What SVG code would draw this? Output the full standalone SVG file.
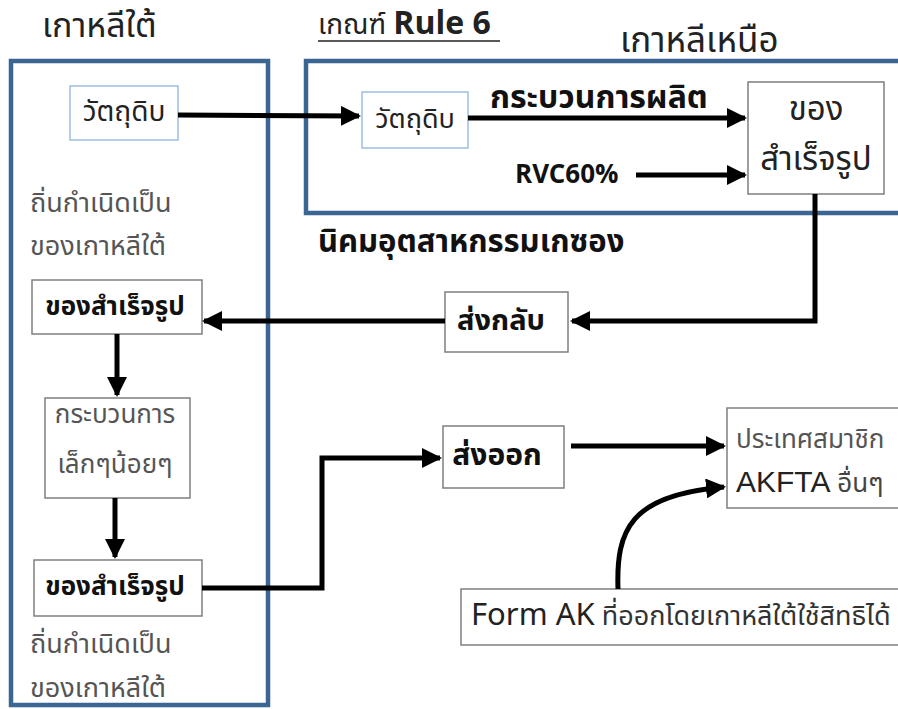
<svg xmlns="http://www.w3.org/2000/svg" width="898" height="709" viewBox="0 0 898 709">
<defs>
<style>
text{font-family:"Noto Sans Thai","Noto Sans","Liberation Sans",sans-serif;}
.region{fill:none;stroke:#3b6593;stroke-width:4.5;}
.box{fill:#fff;stroke:#7f7f7f;stroke-width:1.5;}
.bluebox{fill:#fff;stroke:#9dbde3;stroke-width:1.5;}
.c{fill:none;stroke:#000;stroke-width:5;}
.b{font-weight:bold;fill:#111;}
.g{fill:#555;}
.t{fill:#222;}
</style>
<marker id="ah" viewBox="0 0 10 10" refX="9" refY="5" markerWidth="4" markerHeight="4" markerUnits="strokeWidth" orient="auto">
<path d="M0,0 L10,5 L0,10 Z" fill="#000"/>
</marker>
</defs>
<rect width="898" height="709" fill="#fff"/>

<g id="south-korea">
<rect class="region" x="11" y="61" width="257" height="644"/>
<text x="42" y="37" font-size="34" class="t">เกาหลีใต้</text>
</g>
<g id="north-korea">
<rect class="region" x="306" y="61" width="600" height="152"/>
<text x="620" y="52" font-size="35" class="t">เกาหลีเหนือ</text>
</g>
<g id="rule-title">
<text x="318" y="34" class="t"><tspan font-size="28">เกณฑ์ </tspan><tspan font-size="32" font-weight="bold">Rule 6</tspan></text>
<line x1="318" y1="41" x2="500" y2="41" stroke="#222" stroke-width="1.5"/>
</g>
<g id="kaesong-label">
<text x="318" y="252" font-size="31" class="b">นิคมอุตสาหกรรมเกซอง</text>
</g>

<g id="raw-sk">
<rect class="bluebox" x="70" y="86" width="108" height="54"/>
<text x="124" y="121" font-size="28" text-anchor="middle" class="t">วัตถุดิบ</text>
</g>
<g id="raw-nk">
<rect class="bluebox" x="362" y="92" width="106" height="56"/>
<text x="415" y="128" font-size="27" text-anchor="middle" class="t">วัตถุดิบ</text>
</g>
<g id="process-label">
<text x="490" y="108" font-size="32" class="b">กระบวนการผลิต</text>
</g>
<g id="rvc-label">
<text x="515" y="183" font-size="26" class="b">RVC60%</text>
</g>
<g id="finished-nk">
<rect class="box" x="748" y="82" width="136" height="112"/>
<text x="816" y="120" font-size="33" text-anchor="middle" class="t">ของ</text>
<text x="816" y="170" font-size="33" text-anchor="middle" class="t">สำเร็จรูป</text>
</g>
<g id="send-back">
<rect class="box" x="445" y="292" width="123" height="60"/>
<text x="501" y="330" font-size="29" text-anchor="middle" class="b">ส่งกลับ</text>
</g>
<g id="origin-sk-1">
<text x="30" y="212" font-size="27" class="g">ถิ่นกำเนิดเป็น</text>
<text x="30" y="255" font-size="27" class="g">ของเกาหลีใต้</text>
</g>
<g id="finished-sk-1">
<rect class="box" x="32" y="280" width="170" height="54"/>
<text x="115" y="315" font-size="26" text-anchor="middle" class="b">ของสำเร็จรูป</text>
</g>
<g id="minor-process">
<rect class="box" x="45" y="398" width="145" height="100"/>
<text x="115" y="423" font-size="26" text-anchor="middle" class="g">กระบวนการ</text>
<text x="115" y="473" font-size="26" text-anchor="middle" class="g">เล็กๆน้อยๆ</text>
</g>
<g id="finished-sk-2">
<rect class="box" x="34" y="560" width="168" height="56"/>
<text x="115" y="595" font-size="26" text-anchor="middle" class="b">ของสำเร็จรูป</text>
</g>
<g id="origin-sk-2">
<text x="30" y="653" font-size="27" class="g">ถิ่นกำเนิดเป็น</text>
<text x="30" y="697" font-size="27" class="g">ของเกาหลีใต้</text>
</g>
<g id="export">
<rect class="box" x="443" y="426" width="121" height="62"/>
<text x="497" y="465" font-size="30" text-anchor="middle" class="b">ส่งออก</text>
</g>
<g id="akfta">
<rect class="box" x="727" y="408" width="180" height="100"/>
<text x="736" y="448" font-size="26" class="g">ประเทศสมาชิก</text>
<text x="736" y="492" class="t"><tspan font-size="30" font-family="Liberation Sans">AKFTA</tspan><tspan font-size="26" fill="#444"> อื่นๆ</tspan></text>
</g>
<g id="form-ak">
<rect class="box" x="461" y="589" width="450" height="56"/>
<text x="471" y="625" class="t"><tspan font-size="31">Form AK</tspan><tspan font-size="27" fill="#333"> ที่ออกโดยเกาหลีใต้ใช้สิทธิได้</tspan></text>
</g>

<g id="connectors">
<path class="c" marker-end="url(#ah)" d="M178,115 L359,116"/>
<path class="c" marker-end="url(#ah)" d="M468,118 L745,118"/>
<path class="c" marker-end="url(#ah)" d="M636,175 L745,175"/>
<path class="c" marker-end="url(#ah)" d="M815,194 L815,321 L572,321"/>
<path class="c" marker-end="url(#ah)" d="M445,321 L204,321"/>
<path class="c" marker-end="url(#ah)" d="M117,334 L117,395"/>
<path class="c" marker-end="url(#ah)" d="M115,498 L115,557"/>
<path class="c" marker-end="url(#ah)" d="M202,588 L322,588 L322,458 L440,458"/>
<path class="c" marker-end="url(#ah)" d="M571,446 L724,446"/>
<path class="c" marker-end="url(#ah)" d="M618,589 C616,530 630,495 724,487"/>
</g>
</svg>
